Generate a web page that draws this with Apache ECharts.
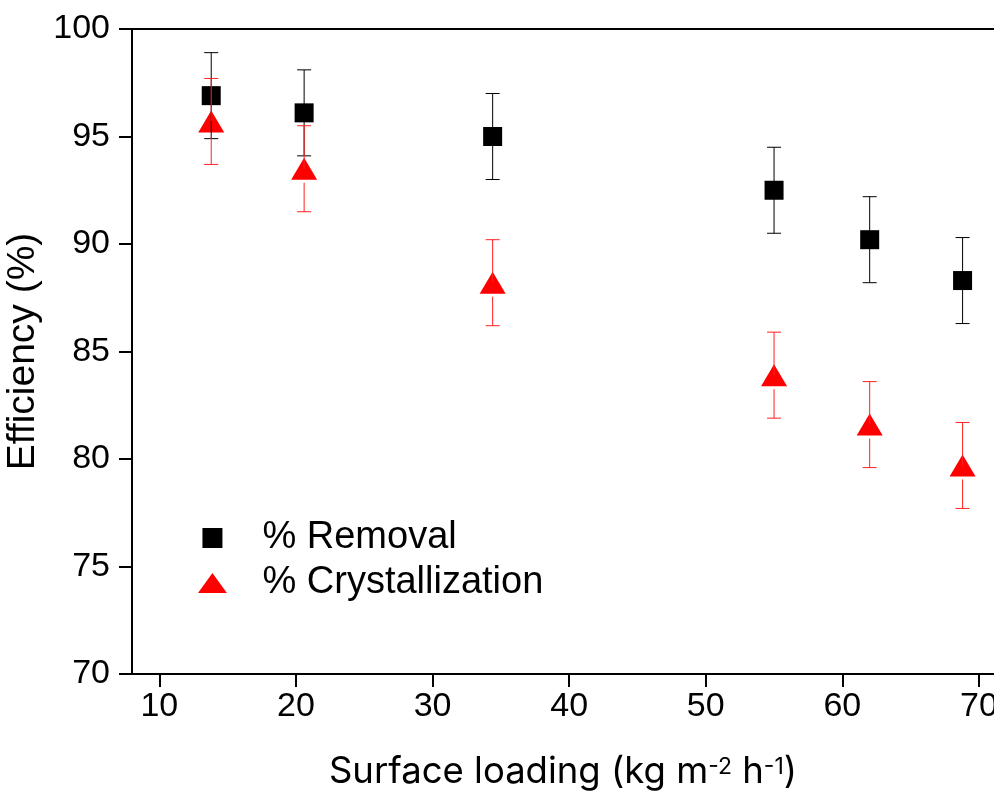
<!DOCTYPE html>
<html>
<head>
<meta charset="utf-8">
<script src="https://cdn.jsdelivr.net/npm/echarts@6/dist/echarts.min.js"></script>
<style>
  html, body { margin: 0; padding: 0; background: #fff; }
  #chart { width: 994px; height: 795px; }
</style>
</head>
<body>
<div id="chart"></div>
<script>
// surface loading (kg m-2 h-1)
var loading = [13.8, 20.6, 34.4, 55.0, 62.0, 68.8];
var removal = [96.9, 96.1, 95.0, 92.5, 90.2, 88.3];
var removalErr = [2.0, 2.0, 2.0, 2.0, 2.0, 2.0];
var crystal = [95.7, 93.5, 88.2, 83.9, 81.6, 79.7];
var crystalErr = [2.0, 2.0, 2.0, 2.0, 2.0, 2.0];
var xTicks = [10, 20, 30, 40, 50, 60, 70];

var squareIcon = 'path://M0,0L10,0L10,10L0,10Z';
var triIcon = 'path://M13,0L26,18L0,18Z';

function pts(ys) {
    return loading.map(function (x, i) { return [x, ys[i]]; });
}
function errPts(ys, es) {
    return loading.map(function (x, i) { return [x, ys[i], es[i]]; });
}

// error bar: vertical line + caps, optional gap under the symbol
function errBar(gap) {
    return function (params, api) {
        var x = api.value(0), y = api.value(1), e = api.value(2);
        var top = api.coord([x, y + e]);
        var mid = api.coord([x, y]);
        var bot = api.coord([x, y - e]);
        var hw = 7;
        var st = { stroke: api.visual('color'), lineWidth: 1 };
        return {
            type: 'group',
            children: [
                { type: 'line', shape: { x1: top[0], y1: top[1], x2: mid[0], y2: mid[1] }, style: st },
                { type: 'line', shape: { x1: mid[0], y1: mid[1] + gap, x2: bot[0], y2: bot[1] }, style: st },
                { type: 'line', shape: { x1: top[0] - hw, y1: top[1], x2: top[0] + hw, y2: top[1] }, style: st },
                { type: 'line', shape: { x1: bot[0] - hw, y1: bot[1], x2: bot[0] + hw, y2: bot[1] }, style: st }
            ]
        };
    };
}

var myChart = echarts.init(document.getElementById('chart'));
var axisFont = 'Liberation Sans, Arial, sans-serif';

option = {
    animation: false,
    grid: { left: 132, right: 0, top: 29, bottom: 121, outerBoundsMode: 'none' },
    legend: {
        orient: 'vertical',
        left: 193,
        top: 514,
        itemWidth: 90,
        itemHeight: 20,
        itemGap: 7,
        selectedMode: false,
        textStyle: { fontFamily: axisFont, fontSize: 38, color: '#000' },
        data: [
            { name: '% Removal', icon: squareIcon, itemStyle: { opacity: 1 } },
            { name: '% Crystallization', icon: triIcon, itemStyle: { opacity: 1 } }
        ]
    },
    xAxis: [{
        type: 'value',
        min: 8,
        max: 71.1,
        name: '{a|Surface loading (kg m}{s|-2}{a| h}{s|-1}{a|)}',
        nameLocation: 'middle',
        nameGap: 76,
        nameTextStyle: {
            rich: {
                a: { fontFamily: 'Inter', fontSize: 36.5, color: '#000', lineHeight: 44 },
                s: { fontFamily: 'Inter', fontSize: 23, color: '#000', verticalAlign: 'top', lineHeight: 22, padding: [6, 0, 0, 0] }
            }
        },
        splitLine: { show: false },
        axisLine: { lineStyle: { color: '#000', width: 2 } },
        axisTick: { length: 13, lineStyle: { color: '#000', width: 2 }, customValues: xTicks },
        axisLabel: { margin: 16, fontFamily: axisFont, fontSize: 34, color: '#000', customValues: xTicks }
    }, {
        type: 'value',
        position: 'top',
        min: 8,
        max: 71.1,
        splitLine: { show: false },
        axisLine: { lineStyle: { color: '#000', width: 2 } },
        axisTick: { show: false },
        axisLabel: { show: false }
    }],
    yAxis: {
        type: 'value',
        min: 70,
        max: 100,
        interval: 5,
        name: 'Efficiency (%)',
        nameLocation: 'middle',
        nameGap: 77,
        nameTextStyle: { fontFamily: axisFont, fontSize: 39, color: '#000' },
        splitLine: { show: false },
        axisLine: { show: true, lineStyle: { color: '#000', width: 2 } },
        axisTick: { show: true, length: 13, lineStyle: { color: '#000', width: 2 } },
        axisLabel: { margin: 22, fontFamily: axisFont, fontSize: 34, color: '#000' }
    },
    series: [
        {
            name: '% Removal',
            type: 'scatter',
            symbol: squareIcon,
            symbolSize: 19,
            itemStyle: { color: '#000', opacity: 1 },
            z: 2,
            data: pts(removal)
        },
        {
            name: '% Crystallization',
            type: 'scatter',
            symbol: triIcon,
            symbolSize: [26, 22],
            itemStyle: { color: '#ff0000', opacity: 1 },
            z: 2,
            data: pts(crystal)
        },
        {
            name: 'removal err',
            type: 'custom',
            renderItem: errBar(0),
            itemStyle: { color: '#000' },
            z: 3,
            silent: true,
            data: errPts(removal, removalErr)
        },
        {
            name: 'crystal err',
            type: 'custom',
            renderItem: errBar(14),
            itemStyle: { color: '#ff2020' },
            z: 3,
            silent: true,
            data: errPts(crystal, crystalErr)
        }
    ]
};
myChart.setOption(option);
</script>
</body>
</html>
